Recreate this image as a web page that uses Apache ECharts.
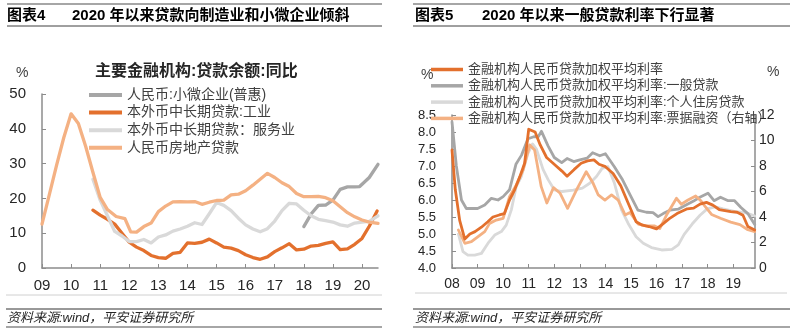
<!DOCTYPE html>
<html>
<head>
<meta charset="utf-8">
<script src="https://cdn.jsdelivr.net/npm/echarts@6/dist/echarts.min.js"></script>
<style>
  html, body { margin: 0; padding: 0; background: #fff; }
  #main { width: 795px; height: 333px; }
</style>
</head>
<body>
<div id="main"></div>
<script>
// ---- 图表4：主要金融机构贷款余额同比（%），横轴为年份（小数表示年内位置）----
const loanYears = [2009, 2010, 2011, 2012, 2013, 2014, 2015, 2016, 2017, 2018, 2019, 2020];
const loanSeriesNames = ['人民币:小微企业(普惠)', '本外币中长期贷款:工业', '本外币中长期贷款：服务业', '人民币房地产贷款'];

const smallMicro = [
  [2018.0, 11.9], [2018.25, 15.5], [2018.5, 18.0], [2018.75, 18.1], [2019.0, 19.5],
  [2019.25, 22.6], [2019.5, 23.3], [2019.75, 23.3], [2019.92, 23.4], [2020.25, 26.0], [2020.55, 29.8]
];
const industryLoan = [
  [2010.75, 16.6], [2011.0, 15.2], [2011.25, 14.0], [2011.5, 12.6], [2011.75, 10.0], [2012.0, 7.4],
  [2012.25, 6.0], [2012.5, 5.0], [2012.75, 3.6], [2013.0, 3.0], [2013.25, 2.8], [2013.5, 4.2],
  [2013.75, 4.5], [2014.0, 7.2], [2014.25, 7.1], [2014.5, 7.4], [2014.75, 8.3], [2015.0, 7.2],
  [2015.25, 6.0], [2015.5, 5.7], [2015.75, 5.0], [2016.0, 3.8], [2016.25, 3.0], [2016.5, 2.5],
  [2016.75, 3.2], [2017.0, 4.7], [2017.25, 5.8], [2017.5, 7.0], [2017.75, 5.2], [2018.0, 5.4],
  [2018.25, 6.3], [2018.5, 6.5], [2018.75, 7.1], [2019.0, 7.5], [2019.25, 5.3], [2019.5, 5.5],
  [2019.75, 6.8], [2020.0, 8.5], [2020.25, 12.0], [2020.52, 16.4]
];
const serviceLoan = [
  [2010.75, 25.5], [2011.0, 19.5], [2011.25, 15.0], [2011.5, 10.5], [2011.75, 9.2], [2012.0, 7.6],
  [2012.25, 7.6], [2012.5, 8.2], [2012.75, 7.2], [2013.0, 8.9], [2013.25, 9.5], [2013.5, 10.6],
  [2013.75, 11.2], [2014.0, 12.0], [2014.25, 13.0], [2014.5, 12.5], [2014.75, 15.6], [2015.0, 18.8],
  [2015.25, 18.0], [2015.5, 16.5], [2015.75, 14.3], [2016.0, 12.4], [2016.25, 11.2], [2016.5, 10.4],
  [2016.75, 11.3], [2017.0, 13.5], [2017.25, 16.5], [2017.5, 18.6], [2017.75, 18.4], [2018.0, 16.6],
  [2018.25, 15.0], [2018.5, 14.0], [2018.75, 13.6], [2019.0, 13.2], [2019.25, 12.4], [2019.5, 12.0],
  [2019.75, 12.9], [2020.0, 13.2], [2020.25, 13.4], [2020.55, 15.0]
];
const realEstateLoan = [
  [2009.0, 12.6], [2009.25, 21.0], [2009.5, 29.5], [2009.75, 37.5], [2010.0, 44.3], [2010.25, 41.5],
  [2010.5, 35.0], [2010.75, 27.5], [2011.0, 20.3], [2011.25, 16.8], [2011.55, 14.8], [2011.85, 14.2],
  [2012.05, 10.4], [2012.25, 10.3], [2012.5, 11.9], [2012.75, 12.9], [2013.0, 16.2], [2013.25, 17.8],
  [2013.5, 19.0], [2013.75, 19.1], [2014.0, 19.0], [2014.25, 19.1], [2014.5, 18.3], [2014.75, 18.9],
  [2015.0, 19.4], [2015.25, 19.5], [2015.5, 21.0], [2015.75, 21.2], [2016.0, 22.2], [2016.25, 23.8],
  [2016.5, 25.5], [2016.75, 27.2], [2017.0, 26.0], [2017.25, 24.5], [2017.5, 23.4], [2017.75, 21.4],
  [2018.0, 20.5], [2018.25, 20.5], [2018.5, 20.6], [2018.75, 20.2], [2019.0, 19.3], [2019.25, 17.6],
  [2019.5, 15.9], [2019.75, 14.7], [2020.0, 13.8], [2020.25, 13.2], [2020.55, 12.8]
];

// ---- 图表5：金融机构人民币贷款加权平均利率（%）----
const rateYears = [2008, 2009, 2010, 2011, 2012, 2013, 2014, 2015, 2016, 2017, 2018, 2019];
const rateSeriesNames = [
  '金融机构人民币贷款加权平均利率',
  '金融机构人民币贷款加权平均利率:一般贷款',
  '金融机构人民币贷款加权平均利率:个人住房贷款',
  '金融机构人民币贷款加权平均利率:票据融资（右轴）'
];

const rateAll = [
  [2008.0, 7.47], [2008.13, 6.3], [2008.3, 5.4], [2008.5, 4.85], [2008.7, 5.0], [2008.9, 5.07],
  [2009.15, 5.2], [2009.4, 5.36], [2009.6, 5.5], [2009.85, 5.56], [2010.05, 5.6], [2010.25, 6.0],
  [2010.45, 6.3], [2010.65, 6.68], [2010.84, 7.08], [2011.0, 8.08], [2011.25, 8.0], [2011.45, 7.62],
  [2011.7, 7.25], [2012.03, 7.03], [2012.3, 6.85], [2012.5, 6.7], [2012.78, 6.9], [2013.05, 7.08],
  [2013.3, 7.15], [2013.55, 7.18], [2013.75, 7.05], [2014.0, 6.98], [2014.3, 6.78], [2014.6, 6.42],
  [2014.95, 5.8], [2015.2, 5.36], [2015.45, 5.26], [2015.7, 5.22], [2016.0, 5.15], [2016.25, 5.3],
  [2016.5, 5.45], [2016.8, 5.6], [2017.2, 5.74], [2017.45, 5.76], [2017.7, 5.88], [2017.95, 5.93],
  [2018.2, 5.85], [2018.45, 5.72], [2018.9, 5.66], [2019.15, 5.64], [2019.38, 5.55], [2019.57, 5.22],
  [2019.84, 5.12]
];
const rateGeneral = [
  [2008.0, 8.3], [2008.17, 7.0], [2008.37, 6.0], [2008.56, 5.75], [2009.0, 5.75], [2009.28, 5.85],
  [2009.54, 6.05], [2009.8, 6.0], [2010.0, 6.1], [2010.25, 6.3], [2010.5, 7.05], [2010.72, 7.32],
  [2010.97, 7.8], [2011.2, 7.86], [2011.37, 7.86], [2011.5, 8.02], [2011.75, 7.6], [2012.0, 7.25],
  [2012.29, 7.1], [2012.5, 7.22], [2012.76, 7.13], [2013.0, 7.18], [2013.28, 7.23], [2013.5, 7.39],
  [2013.78, 7.3], [2014.0, 7.36], [2014.35, 6.98], [2014.65, 6.62], [2015.0, 6.1], [2015.27, 5.7],
  [2015.6, 5.64], [2015.86, 5.63], [2016.06, 5.51], [2016.26, 5.6], [2016.52, 5.7], [2016.84, 5.73],
  [2017.15, 5.85], [2017.43, 5.96], [2017.69, 6.08], [2018.01, 6.2], [2018.25, 5.98], [2018.5, 6.08],
  [2018.8, 5.98], [2019.05, 5.98], [2019.3, 5.78], [2019.57, 5.6], [2019.84, 5.28]
];
const rateMortgage = [
  [2008.25, 5.0], [2008.43, 4.48], [2008.62, 4.38], [2008.89, 4.38], [2009.15, 4.43], [2009.41, 4.73],
  [2009.67, 4.97], [2009.93, 5.07], [2010.12, 5.26], [2010.32, 5.71], [2010.51, 6.39], [2010.71, 6.69],
  [2010.97, 7.37], [2011.15, 7.65], [2011.3, 7.5], [2011.56, 6.9], [2011.76, 6.6], [2012.0, 6.3],
  [2012.3, 6.25], [2012.75, 6.29], [2013.1, 6.35], [2013.4, 6.5], [2013.65, 6.69], [2013.87, 6.93],
  [2014.1, 6.98], [2014.35, 6.5], [2014.63, 5.71], [2014.89, 5.31], [2015.2, 4.92], [2015.48, 4.73],
  [2015.8, 4.6], [2016.2, 4.53], [2016.6, 4.55], [2016.85, 4.68], [2017.08, 4.99], [2017.4, 5.3],
  [2017.7, 5.55], [2017.98, 5.74], [2018.3, 5.8], [2018.6, 5.74], [2019.08, 5.66], [2019.48, 5.63],
  [2019.84, 5.53]
];
const rateBill = [
  [2008.25, 2.98], [2008.5, 1.94], [2008.76, 2.06], [2009.02, 2.46], [2009.28, 2.85], [2009.47, 3.5],
  [2009.73, 3.76], [2010.0, 3.9], [2010.25, 5.6], [2010.51, 6.5], [2010.78, 7.7], [2011.04, 9.65],
  [2011.23, 9.25], [2011.49, 6.38], [2011.71, 5.1], [2011.97, 6.3], [2012.23, 5.86], [2012.52, 4.68],
  [2012.9, 6.25], [2013.25, 7.55], [2013.52, 6.64], [2013.72, 5.73], [2013.98, 5.33], [2014.24, 5.73],
  [2014.5, 5.33], [2014.77, 4.16], [2014.96, 4.35], [2015.28, 3.45], [2015.6, 3.3], [2015.93, 3.3],
  [2016.13, 3.1], [2016.39, 4.15], [2016.78, 5.47], [2016.97, 5.0], [2017.23, 5.33], [2017.53, 5.65],
  [2017.72, 5.3], [2017.89, 4.85], [2018.15, 4.2], [2018.5, 3.9], [2018.9, 3.6], [2019.26, 3.4],
  [2019.57, 3.0], [2019.84, 2.85]
];

// ---- 样式 ----
const C_ORANGE = '#E3702D';
const C_PEACH = '#F4B183';
const C_GRAY = '#A6A6A6';
const C_LIGHT = '#D9D9D9';
const FONT = 'Arial, "Liberation Sans", "Noto Sans CJK SC", sans-serif';
const AXIS_LINE = { lineStyle: { color: '#8C8C8C', width: 1.5 } };
const TEXT_COLOR = '#262626';

const yearLabel = v => String(v % 100).padStart(2, '0');

function lineSeries(name, data, color, width, xIdx, yIdx) {
  return {
    name, type: 'line', data, xAxisIndex: xIdx, yAxisIndex: yIdx,
    symbol: 'none', smooth: false, animation: false,
    lineStyle: { color, width, cap: 'round', join: 'round' },
    itemStyle: { color }
  };
}

function hLine(x1, x2, y, color, w) {
  return { type: 'line', shape: { x1, y1: y, x2, y2: y }, style: { stroke: color, lineWidth: w } };
}
function txt(x, y, text, size, opts) {
  return {
    type: 'text', x, y,
    style: Object.assign({ text, fill: '#000', font: `${size}px ${FONT}`, textVerticalAlign: 'middle' }, opts || {})
  };
}

const chart = echarts.init(document.getElementById('main'), null, { renderer: 'canvas' });

chart.setOption({
  animation: false,
  textStyle: { fontFamily: FONT },
  grid: [
    { left: 42, top: 94, width: 336, height: 174 },
    { left: 452, top: 115, width: 303, height: 153 }
  ],
  xAxis: [
    {
      type: 'value', gridIndex: 0, min: 2009, max: 2020.55, interval: 1,
      axisLine: AXIS_LINE,
      axisTick: { inside: true, length: 4, customValues: loanYears, lineStyle: { color: '#8C8C8C' } },
      axisLabel: { customValues: loanYears, formatter: yearLabel, fontSize: 15, color: TEXT_COLOR, margin: 10 },
      splitLine: { show: false }
    },
    {
      type: 'value', gridIndex: 1, min: 2008, max: 2019.85, interval: 1,
      axisLine: AXIS_LINE,
      axisTick: { inside: true, length: 4, customValues: rateYears, lineStyle: { color: '#8C8C8C' } },
      axisLabel: { customValues: rateYears, formatter: yearLabel, fontSize: 14, color: TEXT_COLOR, margin: 9 },
      splitLine: { show: false }
    }
  ],
  yAxis: [
    {
      type: 'value', gridIndex: 0, min: 0, max: 50, interval: 10,
      axisLine: Object.assign({ show: true }, AXIS_LINE),
      axisTick: { show: true, inside: true, length: 4, lineStyle: { color: '#8C8C8C' } },
      axisLabel: { fontSize: 15, color: TEXT_COLOR, margin: 16 },
      splitLine: { show: false }
    },
    {
      type: 'value', gridIndex: 1, position: 'left', min: 4, max: 8.5, interval: 0.5,
      axisLine: Object.assign({ show: true }, AXIS_LINE),
      axisTick: { show: true, inside: true, length: 4, lineStyle: { color: '#8C8C8C' } },
      axisLabel: { fontSize: 13, color: TEXT_COLOR, margin: 16, formatter: v => v.toFixed(1) },
      splitLine: { show: false }
    },
    {
      type: 'value', gridIndex: 1, position: 'right', min: 0, max: 12, interval: 2,
      axisLine: Object.assign({ show: true }, AXIS_LINE),
      axisTick: { show: true, inside: true, length: 4, lineStyle: { color: '#8C8C8C' } },
      axisLabel: { fontSize: 14, color: TEXT_COLOR, margin: 4 },
      splitLine: { show: false }
    }
  ],
  legend: [
    {
      data: loanSeriesNames, orient: 'vertical', left: 89, top: 88, padding: 0,
      icon: 'path://M0 0H33V4H0Z',
      itemWidth: 33, itemHeight: 14, itemGap: 3.6,
      textStyle: { fontSize: 14, color: '#404040' }
    },
    {
      data: rateSeriesNames, orient: 'vertical', left: 431, top: 63, padding: 0,
      icon: 'path://M0 0H32V3.5H0Z',
      itemWidth: 32, itemHeight: 13, itemGap: 3.3,
      textStyle: { fontSize: 13, color: '#404040' }
    }
  ],
  series: [
    lineSeries(loanSeriesNames[0], smallMicro, C_GRAY, 3.3, 0, 0),
    lineSeries(loanSeriesNames[1], industryLoan, C_ORANGE, 3.3, 0, 0),
    lineSeries(loanSeriesNames[2], serviceLoan, C_LIGHT, 3.3, 0, 0),
    lineSeries(loanSeriesNames[3], realEstateLoan, C_PEACH, 3.3, 0, 0),
    lineSeries(rateSeriesNames[2], rateMortgage, C_LIGHT, 2.8, 1, 1),
    lineSeries(rateSeriesNames[1], rateGeneral, C_GRAY, 2.8, 1, 1),
    lineSeries(rateSeriesNames[3], rateBill, C_PEACH, 2.8, 1, 2),
    lineSeries(rateSeriesNames[0], rateAll, C_ORANGE, 2.8, 1, 1)
  ],
  graphic: [
    // 左侧标题栏
    hLine(7, 382, 4, '#A6A6A6', 2),
    txt(7, 15.5, '图表4', 15, { font: `bold 15px ${FONT}` }),
    txt(72, 15.5, '2020 年以来贷款向制造业和小微企业倾斜', 15, { font: `bold 15px ${FONT}` }),
    hLine(7, 382, 26, '#404040', 1),
    // 右侧标题栏
    hLine(413, 790, 4, '#A6A6A6', 2),
    txt(415, 15.5, '图表5', 15, { font: `bold 15px ${FONT}` }),
    txt(482, 15.5, '2020 年以来一般贷款利率下行显著', 15, { font: `bold 15px ${FONT}` }),
    hLine(413, 790, 26, '#404040', 1),
    // 图内文字
    txt(95, 72, '主要金融机构:贷款余额:同比', 16, { font: `bold 16px ${FONT}`, fill: '#262626' }),
    txt(16, 73, '%', 14, { fill: '#404040' }),
    txt(421, 75, '%', 14, { fill: '#404040' }),
    txt(767, 72, '%', 14, { fill: '#404040' }),
    // 脚注
    hLine(6, 382, 295, '#D0D0D0', 1),
    hLine(6, 382, 309, '#333333', 1),
    txt(7, 318, '资料来源:wind，平安证券研究所', 13, { font: `italic 13px ${FONT}`, fill: '#262626' }),
    hLine(6, 382, 327, '#A6A6A6', 2),
    hLine(415, 787, 293, '#D0D0D0', 1),
    hLine(413, 790, 309, '#333333', 1),
    txt(415, 318, '资料来源:wind，平安证券研究所', 13, { font: `italic 13px ${FONT}`, fill: '#262626' }),
    hLine(413, 790, 327, '#A6A6A6', 2)
  ]
});
</script>
</body>
</html>
